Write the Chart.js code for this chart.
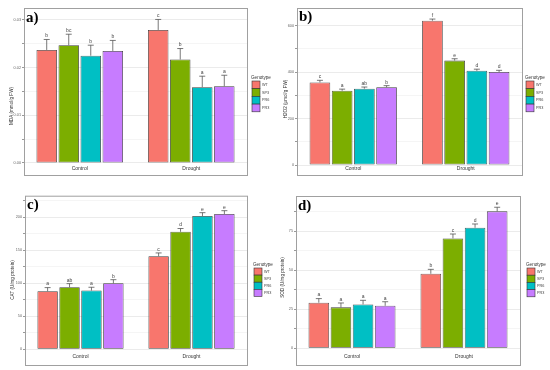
<!DOCTYPE html>
<html>
<head>
<meta charset="utf-8">
<script src="https://cdn.jsdelivr.net/npm/chart.js@4.4.1/dist/chart.umd.min.js"></script>
<style>
  body { margin: 0; background: #fff; }
  #wrap { position: relative; width: 550px; height: 370px; }
  canvas { position: absolute; }
</style>
</head>
<body>
<div id="wrap">
  <canvas id="cA" width="275" height="185" style="left:0;top:0"></canvas>
  <canvas id="cB" width="275" height="185" style="left:275px;top:0"></canvas>
  <canvas id="cC" width="275" height="185" style="left:0;top:185px"></canvas>
  <canvas id="cD" width="275" height="185" style="left:275px;top:185px"></canvas>
</div>
<script>
// groups and genotypes
const treatments = ['Control', 'Drought'];
const genotypes = ['WT', 'SP3', 'PR6', 'PR3'];
const genoColors = ['#F8766D', '#7CAE00', '#00BFC4', '#C77CFF'];

// a) MDA, one row per genotype: [Control, Drought]
const mdaValues = [[0.0237, 0.0279], [0.0247, 0.0217], [0.0225, 0.0159], [0.0235, 0.0161]];
const mdaErrors = [[0.0022, 0.0022], [0.0023, 0.0023], [0.0022, 0.0023], [0.0022, 0.0023]];
const mdaLetters = [['b', 'c'], ['bc', 'b'], ['b', 'a'], ['b', 'a']];
const mdaTicks = [0, 0.01, 0.02, 0.03];

// b) H2O2
const h2o2Values = [[356, 622], [320, 450], [329, 406], [335, 401]];
const h2o2Errors = [[9, 7], [7, 8], [7, 7], [7, 7]];
const h2o2Letters = [['c', 'f'], ['a', 'e'], ['ab', 'd'], ['b', 'd']];
const h2o2Ticks = [0, 200, 400, 600];

// c) CAT
const catValues = [[88, 141], [94, 178], [89, 202], [100, 205]];
const catErrors = [[5.5, 5], [5.5, 5], [5, 5], [5.5, 5]];
const catLetters = [['a', 'c'], ['ab', 'd'], ['a', 'e'], ['b', 'e']];
const catTicks = [0, 50, 100, 150, 200];

// d) SOD
const sodValues = [[29.2, 47.7], [26.2, 70.3], [28.1, 77.1], [27.2, 87.6]];
const sodErrors = [[2.6, 2.8], [2.8, 2.8], [2.6, 2.4], [2.6, 2.6]];
const sodLetters = [['a', 'b'], ['a', 'c'], ['a', 'd'], ['a', 'e']];
const sodTicks = [0, 25, 50, 75];

Chart.defaults.font.family = '"Liberation Sans", Arial, sans-serif';

const panelPlugin = {
  id: 'panel',
  beforeDraw(chart) {
    const ctx = chart.ctx;
    ctx.save();
    ctx.fillStyle = '#fff';
    ctx.fillRect(0, 0, chart.width, chart.height);
    ctx.restore();
  },
  afterDatasetsDraw(chart) {
    const ctx = chart.ctx, y = chart.scales.y;
    ctx.save();
    chart.data.datasets.forEach((ds, i) => {
      chart.getDatasetMeta(i).data.forEach((bar, j) => {
        const base = y.getPixelForValue(ds.data[j]);
        const top = y.getPixelForValue(ds.data[j] + ds.err[j]);
        ctx.strokeStyle = '#555';
        ctx.lineWidth = 0.8;
        ctx.beginPath();
        ctx.moveTo(bar.x, base);
        ctx.lineTo(bar.x, top);
        ctx.moveTo(bar.x - 3, top);
        ctx.lineTo(bar.x + 3, top);
        ctx.stroke();
        ctx.fillStyle = '#444';
        ctx.font = '5px "Liberation Sans", Arial, sans-serif';
        ctx.textAlign = 'center';
        ctx.textBaseline = 'bottom';
        ctx.fillText(ds.letters[j], bar.x, top - 1);
      });
    });
    ctx.restore();
  },
  afterDraw(chart, args, o) {
    const ctx = chart.ctx, a = chart.chartArea;
    ctx.save();
    // panel frame
    ctx.strokeStyle = '#a0a0a0';
    ctx.lineWidth = 1;
    ctx.strokeRect(a.left + 0.5, a.top + 0.5, a.right - a.left, o.boxBottom - a.top);
    // tag
    ctx.fillStyle = '#000';
    ctx.font = 'bold 15px "Liberation Serif", "DejaVu Serif", serif';
    ctx.textAlign = 'left';
    ctx.textBaseline = 'alphabetic';
    ctx.fillText(o.tag, a.left + 2, o.tagY);
    // y title
    ctx.save();
    ctx.translate(o.yTitleX, o.yTitleY);
    ctx.rotate(-Math.PI / 2);
    ctx.fillStyle = '#333';
    ctx.font = '4.6px "Liberation Sans", Arial, sans-serif';
    ctx.textAlign = 'center';
    ctx.textBaseline = 'middle';
    ctx.fillText(o.yTitle, 0, 0);
    ctx.restore();
    // legend
    ctx.fillStyle = '#333';
    ctx.font = '4.6px "Liberation Sans", Arial, sans-serif';
    ctx.textAlign = 'left';
    ctx.textBaseline = 'middle';
    ctx.fillText('Genotype', o.legendX, o.legendY);
    chart.data.datasets.forEach((ds, i) => {
      const sy = o.legendY + 3 + i * o.swatchH;
      ctx.fillStyle = ds.backgroundColor;
      ctx.fillRect(o.legendX + 1, sy, 8, o.swatchH);
      ctx.strokeStyle = '#333';
      ctx.lineWidth = 0.6;
      ctx.strokeRect(o.legendX + 1, sy, 8, o.swatchH);
      ctx.fillStyle = '#444';
      ctx.font = '3.8px "Liberation Sans", Arial, sans-serif';
      ctx.fillText(ds.label, o.legendX + 11, sy + o.swatchH / 2);
    });
    ctx.restore();
  }
};

function makePanel(id, values, errors, letters, ticks, p) {
  const step = ticks[1] - ticks[0];
  const gridVals = [];
  ticks.forEach(t => { gridVals.push(t); gridVals.push(t + step / 2); });
  return new Chart(document.getElementById(id), {
    type: 'bar',
    data: {
      labels: treatments,
      datasets: genotypes.map((g, i) => ({
        label: g,
        data: values[i],
        err: errors[i],
        letters: letters[i],
        backgroundColor: genoColors[i],
        borderColor: '#3d3d3d',
        borderWidth: 0.8,
        borderSkipped: false,
        categoryPercentage: 0.79,
        barPercentage: 0.93
      }))
    },
    options: {
      responsive: false,
      animation: false,
      events: [],
      layout: { padding: { left: 0, top: p.top, right: 275 - p.right, bottom: 185 - p.boxBottom } },
      plugins: {
        legend: { display: false },
        tooltip: { enabled: false },
        panel: p
      },
      scales: {
        x: {
          grid: { display: false, drawTicks: false },
          border: { display: false },
          ticks: { color: '#333', font: { size: 5 }, padding: p.xPad },
          afterFit: s => { s.height = p.boxBottom - p.plotBottom; }
        },
        y: {
          min: p.min,
          max: p.max,
          border: { display: false },
          grid: {
            color: c => (ticks.includes(c.tick.value) ? '#ebebeb' : '#f5f5f5'),
            tickLength: 2,
            tickColor: '#999'
          },
          afterBuildTicks: s => { s.ticks = gridVals.filter(v => v <= p.max).map(v => ({ value: v })); },
          ticks: {
            color: '#666',
            font: { size: 3.8 },
            padding: 1,
            callback: v => (ticks.includes(v) ? p.fmt(v) : '')
          },
          afterFit: s => { s.width = p.left; }
        }
      }
    },
    plugins: [panelPlugin]
  });
}

makePanel('cA', mdaValues, mdaErrors, mdaLetters, mdaTicks, {
  tag: 'a)', tagY: 21.5, yTitle: 'MDA (mmol/g FW)', yTitleX: 12, yTitleY: 106,
  left: 24, right: 247, top: 8, plotBottom: 165, boxBottom: 175, xPad: 1,
  min: -0.00042, max: 0.0325, fmt: v => v.toFixed(2),
  legendX: 251, legendY: 78, swatchH: 7.7
});
makePanel('cB', h2o2Values, h2o2Errors, h2o2Letters, h2o2Ticks, {
  tag: 'b)', tagY: 21, yTitle: 'H2O2 (\u03bcmol/g FW)', yTitleX: 11, yTitleY: 99,
  left: 22, right: 247, top: 8, plotBottom: 166, boxBottom: 175, xPad: 0,
  min: -4.3, max: 676.7, fmt: v => String(v),
  legendX: 250, legendY: 78, swatchH: 7.7
});
makePanel('cC', catValues, catErrors, catLetters, catTicks, {
  tag: 'c)', tagY: 23.5, yTitle: 'CAT (U/mg protein)', yTitleX: 12.7, yTitleY: 95,
  left: 25, right: 247, top: 10.7, plotBottom: 166.5, boxBottom: 180, xPad: 2,
  min: -3.3, max: 232.7, fmt: v => String(v),
  legendX: 253, legendY: 80, swatchH: 7.1
});
makePanel('cD', sodValues, sodErrors, sodLetters, sodTicks, {
  tag: 'd)', tagY: 25, yTitle: 'SOD (U/mg protein)', yTitleX: 7.3, yTitleY: 92.5,
  left: 21, right: 245, top: 11, plotBottom: 166, boxBottom: 180, xPad: 3,
  min: -1.7, max: 97.4, fmt: v => String(v),
  legendX: 251, legendY: 80, swatchH: 7.2
});
</script>
</body>
</html>
